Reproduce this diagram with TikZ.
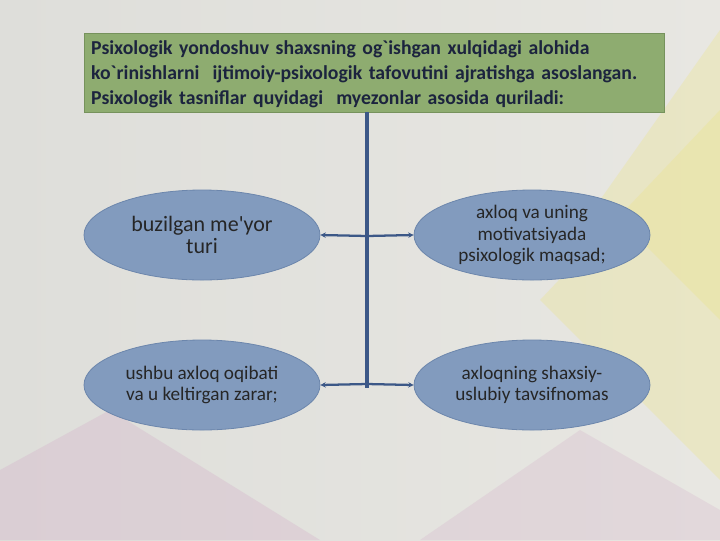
\documentclass[tikz,border=0pt]{standalone}
\usepackage{fontspec}
\setmainfont{Carlito}[Ligatures=TeXOff]
\usetikzlibrary{shapes.geometric,arrows.meta}

\definecolor{bggray}{RGB}{222,222,218}
\definecolor{bglight}{RGB}{232,231,226}
\definecolor{titlegreen}{RGB}{142,172,112}
\definecolor{titleline}{RGB}{118,146,92}
\definecolor{titletext}{RGB}{28,36,62}
\definecolor{ovalblue}{RGB}{130,155,190}
\definecolor{ovalline}{RGB}{108,134,172}
\definecolor{spineblue}{RGB}{60,88,135}
\definecolor{softyellow}{RGB}{236,228,130}
\definecolor{softpink}{RGB}{210,172,200}

\tikzset{
  titlebox/.style={draw=titleline, fill=titlegreen, line width=0.8pt, anchor=north west,
    minimum width=433.5pt, minimum height=59.25pt, text width=425pt, inner xsep=5pt,
    align=left, text=titletext, font=\bfseries\fontsize{14.8}{19}\selectfont},
  oval/.style={ellipse, draw=ovalline, fill=ovalblue, line width=0.6pt,
    minimum width=177pt, minimum height=67.5pt, inner sep=0pt, align=center, text=black!85,
    font=\fontsize{14.4}{16.2}\selectfont},
  spine/.style={spineblue, line width=3pt},
  link/.style={spineblue, line width=1.7pt, -{Stealth[length=4pt,width=4pt]}}
}

\begin{document}
\begin{tikzpicture}[x=0.75pt,y=-0.75pt]
% background
\shade[left color=bggray, right color=bglight] (0,0) rectangle (720,540);
\fill[softyellow, opacity=0.30] (720,110) -- (540,300) -- (720,480) -- cycle;
\fill[softyellow, opacity=0.30] (720,30) -- (600,200) -- (720,320) -- cycle;
\fill[softpink, opacity=0.30] (0,540) -- (0,470) -- (110,410) -- (320,540) -- cycle;
\fill[softpink, opacity=0.25] (420,540) -- (580,430) -- (720,510) -- (720,540) -- cycle;
\useasboundingbox (0,0) rectangle (720,540);

% title
\node[titlebox] (title) at (84,33) {\rule{0pt}{12pt}Psixologik yondoshuv shaxsning og`ishgan xulqidagi alohida\\
ko`rinishlarni\ \ ijtimoiy-psixologik tafovutini ajratishga asoslangan.\\
Psixologik tasniflar quyidagi\ \ myezonlar asosida quriladi:};

% criteria
\node[oval, font=\fontsize{16.5}{17}\selectfont] (norm) at (202,235) {buzilgan me'yor\\turi};
\node[oval] (motive) at (532,235) {axloq va uning\\motivatsiyada\\psixologik maqsad;};
\node[oval] (harm) at (202,385) {ushbu axloq oqibati\\va u keltirgan zarar;};
\node[oval] (style) at (532,385) {axloqning shaxsiy-\\uslubiy tavsifnomas};

% spine and branches
\coordinate (s0) at (367,112);
\coordinate (s1) at (367,236);
\coordinate (s2) at (367,384);
\coordinate (s3) at (367,388);
\draw[spine] (s0) -- (s3);
\draw[link] (s1) -- (norm.east);
\draw[link] (s1) -- (motive.west);
\draw[link] (s2) -- (harm.east);
\draw[link] (s2) -- (style.west);
\end{tikzpicture}
\end{document}
